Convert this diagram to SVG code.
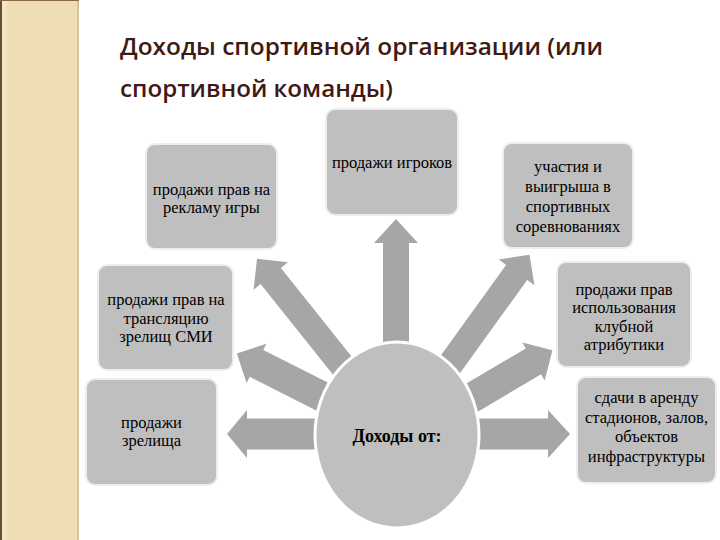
<svg xmlns="http://www.w3.org/2000/svg" width="720" height="540" viewBox="0 0 720 540">
<style>
.box{fill:#BFBFBF;stroke:#EEEEEE;stroke-width:2}
.arrow{fill:#A6A6A6}
.lbl{font-family:"Liberation Serif","Times New Roman",serif;font-size:16.5px;fill:#000;text-anchor:middle}
.title{font-family:"Open Sans","Noto Sans",sans-serif;font-weight:600;font-size:24px;fill:#3F1A14}
</style>
<rect x="0" y="0" width="720" height="540" fill="#FFFFFF"/>
<g id="side-strip">
<rect x="0" y="0" width="79" height="540" fill="#EEDDB2"/>
<rect x="0" y="0" width="2" height="540" fill="#6B4E2E"/>
<rect x="2" y="0" width="5" height="540" fill="#F3E6C4"/>
<rect x="77" y="0" width="2" height="540" fill="#D8C394"/>
<rect x="0" y="0" width="79" height="1" fill="#8A6A44"/>
</g>
<g id="title">
<text class="title" x="120" y="55" textLength="483" lengthAdjust="spacingAndGlyphs">Доходы спортивной организации (или</text>
<text class="title" x="120" y="97" textLength="273" lengthAdjust="spacingAndGlyphs">спортивной команды)</text>
</g>
<g id="connectors">
<path class="arrow" transform="translate(396,350) rotate(-90)" d="M0,-13 L107,-13 L107,-22 L131,0 L107,22 L107,13 L0,13 Z"/>
<path class="arrow" transform="translate(345,369) rotate(-128.6)" d="M0,-13 L119,-13 L119,-22 L141,0 L119,22 L119,13 L0,13 Z"/>
<path class="arrow" transform="translate(447,369) rotate(-54.2)" d="M0,-13 L119,-13 L119,-22 L141,0 L119,22 L119,13 L0,13 Z"/>
<path class="arrow" transform="translate(327,399) rotate(-153.2)" d="M0,-15 L79,-15 L79,-22 L101,0 L79,22 L79,15 L0,15 Z"/>
<path class="arrow" transform="translate(468,400) rotate(-30.5)" d="M0,-15 L76,-15 L76,-22 L98,0 L76,22 L76,15 L0,15 Z"/>
<path class="arrow" transform="translate(322,434) rotate(180)" d="M0,-15.5 L75,-15.5 L75,-24 L95,0 L75,24 L75,15.5 L0,15.5 Z"/>
<path class="arrow" transform="translate(475,434)" d="M0,-15.5 L73,-15.5 L73,-24 L95,0 L73,24 L73,15.5 L0,15.5 Z"/>
</g>
<g id="center">
<ellipse cx="397" cy="435" rx="82" ry="93" fill="#BFBFBF" stroke="#FFFFFF" stroke-width="3"/>
<text x="397" y="442" font-family="Liberation Serif,'Times New Roman',serif" font-weight="bold" font-size="18" text-anchor="middle" fill="#000">Доходы от:</text>
</g>
<g id="node-advert">
<rect class="box" x="146" y="144" width="131" height="105" rx="9"/>
<text class="lbl" x="211.5" y="195">продажи прав на</text>
<text class="lbl" x="211.5" y="213">рекламу игры</text>
</g>
<g id="node-players">
<rect class="box" x="326" y="109" width="132" height="106" rx="9"/>
<text class="lbl" x="392" y="168">продажи игроков</text>
</g>
<g id="node-competitions">
<rect class="box" x="503" y="143" width="130" height="105" rx="9"/>
<text class="lbl" x="568" y="172">участия и</text>
<text class="lbl" x="568" y="192">выигрыша в</text>
<text class="lbl" x="568" y="212">спортивных</text>
<text class="lbl" x="568" y="232">соревнованиях</text>
</g>
<g id="node-broadcast">
<rect class="box" x="98" y="265" width="135" height="105" rx="9"/>
<text class="lbl" x="166" y="305">продажи прав на</text>
<text class="lbl" x="166" y="324">трансляцию</text>
<text class="lbl" x="166" y="342">зрелищ СМИ</text>
</g>
<g id="node-attributes">
<rect class="box" x="557" y="262" width="134" height="105" rx="9"/>
<text class="lbl" x="624" y="295">продажи прав</text>
<text class="lbl" x="624" y="313">использования</text>
<text class="lbl" x="624" y="332">клубной</text>
<text class="lbl" x="624" y="350">атрибутики</text>
</g>
<g id="node-spectacle">
<rect class="box" x="86" y="379" width="131" height="106" rx="9"/>
<text class="lbl" x="151.5" y="428">продажи</text>
<text class="lbl" x="151.5" y="446">зрелища</text>
</g>
<g id="node-rent">
<rect class="box" x="577" y="377" width="139" height="106" rx="9"/>
<text class="lbl" x="646.5" y="403">сдачи в аренду</text>
<text class="lbl" x="646.5" y="423">стадионов, залов,</text>
<text class="lbl" x="646.5" y="442">объектов</text>
<text class="lbl" x="646.5" y="462">инфраструктуры</text>
</g>
</svg>
